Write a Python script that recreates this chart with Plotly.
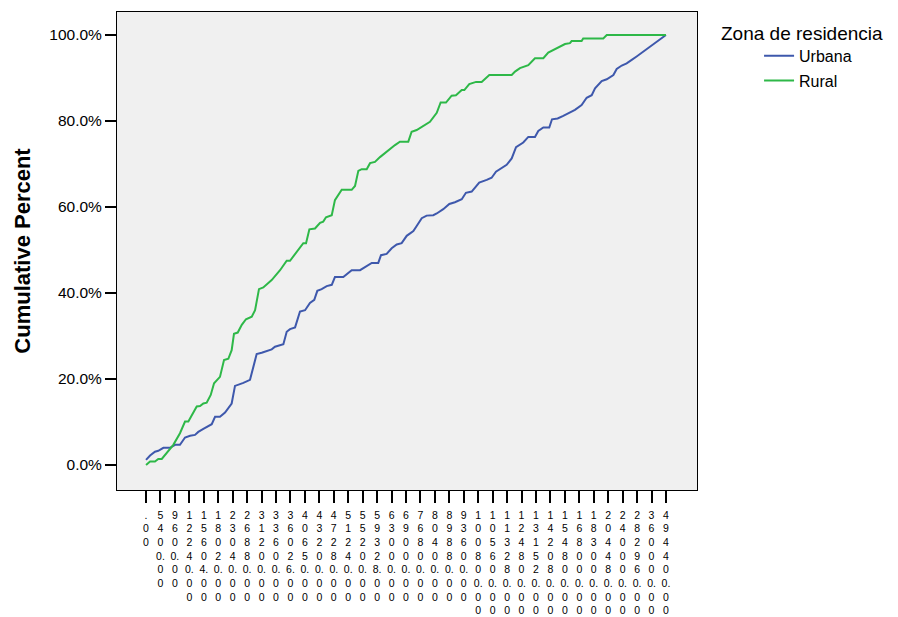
import plotly.graph_objects as go

# category labels shown on the x axis (one every few categories)
x_labels = [".00", "5400.00", "9600.00", "12240.00", "15604.00", "18020.00", "23040.00",
            "26880.00", "31200.00", "33600.00", "36026.00", "40650.00", "43200.00",
            "47280.00", "51240.00", "55200.00", "59328.00", "63000.00", "69000.00",
            "76800.00", "80400.00", "89880.00", "93600.00", "100800.00", "105600.00",
            "113280.00", "124800.00", "131520.00", "142080.00", "154800.00", "168000.00",
            "183000.00", "204480.00", "240000.00", "282960.00", "360000.00", "494400.00"]

y_ticks = [0, 20, 40, 60, 80, 100]
y_labels = ["0.0%", "20.0%", "40.0%", "60.0%", "80.0%", "100.0%"]

# positions in label units, cumulative percent
urbana_x = [0, 0.28, 0.62, 0.85, 1.20, 1.66, 2.01, 2.35, 2.70, 3.05, 3.39, 3.62, 3.97, 4.31,
            4.55, 4.78, 5.12, 5.47, 5.93, 6.16, 6.51, 6.74, 7.20, 7.43, 7.66, 8.01, 8.36, 8.70,
            8.93, 9.28, 9.51, 9.74, 9.97, 10.32, 10.66, 11.01, 11.35, 11.65, 11.86, 12.16,
            12.51, 12.86, 13.08, 13.66, 14.24, 14.82, 15.63, 16.08, 16.27, 16.66, 17.01, 17.36,
            17.70, 18.05, 18.51, 18.74, 19.09, 19.43, 19.89, 20.13, 20.58, 21.00, 21.39, 21.86,
            22.15, 22.55, 23.07, 23.59, 23.93, 24.23, 24.97, 25.32, 25.62, 26.12, 26.47, 26.93,
            27.16, 27.51, 27.92, 28.11, 28.50, 28.89, 29.31, 29.70, 30.16, 30.51, 30.86, 31.09,
            31.55, 31.90, 32.36, 32.59, 32.94, 33.28, 33.63, 33.97, 36]
urbana_y = [1.2, 2.2, 3.1, 3.3, 4.0, 4.0, 4.7, 4.7, 6.4, 6.8, 7.0, 7.7, 8.4, 9.1,
            9.5, 11.2, 11.2, 12.2, 14.3, 18.4, 18.8, 19.1, 19.8, 22.5, 25.8, 26.1, 26.6, 26.9,
            27.5, 27.9, 28.1, 31.0, 31.6, 32.0, 35.7, 36.0, 37.7, 38.4, 40.5, 40.9,
            41.6, 41.9, 43.7, 43.7, 45.3, 45.3, 47.0, 47.0, 48.8, 49.1, 50.4, 51.3,
            51.6, 53.3, 54.4, 55.6, 57.4, 58.0, 58.1, 58.5, 59.5, 60.7, 61.1, 61.8,
            63.3, 63.6, 65.7, 66.3, 66.8, 68.2, 69.8, 71.3, 73.9, 75.0, 76.3, 76.3,
            77.7, 78.5, 78.5, 80.4, 80.6, 81.2, 82.0, 82.6, 83.7, 85.4, 86.0, 87.6,
            89.3, 89.7, 90.7, 92.1, 92.9, 93.4, 94.2, 95.0, 100]

rural_x = [0, 0.28, 0.62, 0.85, 1.09, 1.89, 2.35, 2.70, 2.93, 3.16, 3.51, 3.74, 3.97, 4.20,
           4.48, 4.71, 4.94, 5.12, 5.40, 5.70, 5.93, 6.09, 6.35, 6.63, 6.92, 7.32, 7.55, 7.82,
           8.12, 8.70, 9.28, 9.74, 9.97, 10.43, 10.89, 11.08, 11.31, 11.70, 12.05, 12.27,
           12.46, 12.86, 13.08, 13.55, 14.24, 14.47, 14.70, 14.93, 15.28, 15.51, 15.85, 16.20,
           16.66, 17.01, 17.24, 17.58, 18.16, 18.39, 18.74, 19.66, 20.13, 20.40, 20.77, 21.16,
           21.46, 21.86, 22.04, 22.38, 22.66, 22.85, 23.24, 23.47, 23.77, 25.32, 25.55, 25.89,
           26.12, 26.47, 26.93, 27.51, 27.85, 28.20, 28.66, 29.01, 29.35, 29.47, 30.16, 30.27,
           31.66, 31.90, 36]
rural_y = [0, 0.8, 0.8, 1.4, 1.4, 4.7, 7.4, 10.1, 10.1, 11.6, 13.6, 13.7, 14.3, 14.5,
           16.3, 19.0, 19.8, 20.5, 24.4, 24.7, 26.7, 30.5, 30.8, 32.6, 33.9, 34.5, 36.0, 40.9,
           41.3, 43.0, 45.3, 47.5, 47.5, 49.6, 51.6, 51.6, 54.8, 55.0, 56.3, 56.6,
           57.6, 58.1, 61.6, 64.0, 64.0, 64.9, 68.4, 68.8, 68.8, 70.2, 70.5, 71.6,
           72.9, 73.7, 74.4, 75.2, 75.2, 77.5, 77.9, 79.8, 81.9, 84.3, 84.3, 85.9,
           86.0, 87.2, 87.2, 88.6, 88.8, 89.1, 89.1, 89.9, 90.7, 90.7, 91.5, 92.3,
           92.6, 93.0, 94.6, 94.6, 95.9, 96.5, 97.2, 97.9, 98.1, 98.6, 98.6, 99.2,
           99.2, 100, 100]

FONT = "Arial, Liberation Sans, sans-serif"


def stack_label(s):
    # one character per line, a decimal point stays with the digit before it
    lines = []
    for ch in s:
        if ch == "." and lines:
            lines[-1] += ch
        else:
            lines.append(ch)
    return "<br>".join(lines)


fig = go.Figure()
fig.add_trace(go.Scatter(name="Urbana", x=urbana_x, y=urbana_y, mode="lines",
                         line=dict(color="#3E58AC", width=2), legendgroup="u"))
fig.add_trace(go.Scatter(name="Rural", x=rural_x, y=rural_y, mode="lines",
                         line=dict(color="#2EB848", width=2), legendgroup="r"))

fig.update_xaxes(
    range=[-2.01, 38.15],
    tickvals=list(range(len(x_labels))),
    ticktext=[stack_label(s) for s in x_labels],
    ticks="outside", ticklen=12, tickwidth=2, tickcolor="black",
    ticklabelstandoff=3,
    showline=True, mirror=True, linecolor="black", linewidth=1,
    showgrid=False, zeroline=False, automargin=False,
    tickfont=dict(family=FONT, size=10.5, color="black"),
)
fig.update_yaxes(
    range=[-5.81, 105.35],
    tickvals=y_ticks, ticktext=y_labels,
    ticks="outside", ticklen=11, tickwidth=1.5, tickcolor="black",
    showline=True, mirror=True, linecolor="black", linewidth=1,
    showgrid=False, zeroline=False, automargin=False,
    tickfont=dict(family=FONT, size=15.5, color="black"),
    title=dict(text="<b>Cumulative Percent</b>", font=dict(family=FONT, size=22, color="black"),
               standoff=12),
)
fig.add_annotation(text="Zona de residencia", xref="paper", yref="paper",
                   x=1.038, y=0.954, xanchor="left", yanchor="middle", showarrow=False,
                   font=dict(family=FONT, size=19, color="black"))
# the page body adds an 8px offset, so the figure is drawn 8px smaller
fig.update_layout(
    width=890, height=609,
    margin=dict(t=4, b=127, l=109, r=201, pad=0, autoexpand=False),
    plot_bgcolor="#F0F0F0", paper_bgcolor="white",
    showlegend=True,
    legend=dict(x=1.107, y=0.944, xanchor="left", yanchor="top",
                traceorder="grouped", tracegroupgap=1,
                font=dict(family=FONT, size=16, color="black"),
                bgcolor="rgba(0,0,0,0)"),
)
fig.write_html("out.html")
